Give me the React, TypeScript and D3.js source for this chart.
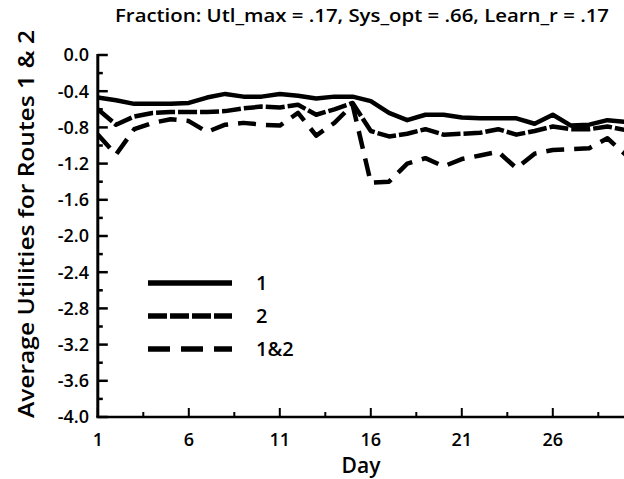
import React from "react";
import * as d3 from "d3";

const days = d3.range(1, 31);
const route1 = [-0.47, -0.5, -0.54, -0.54, -0.54, -0.53, -0.47, -0.43, -0.46, -0.46, -0.43, -0.45, -0.48, -0.46, -0.46, -0.51, -0.64, -0.72, -0.66, -0.66, -0.69, -0.7, -0.7, -0.7, -0.76, -0.66, -0.78, -0.77, -0.72, -0.74];
const route2 = [-0.6, -0.77, -0.68, -0.64, -0.63, -0.63, -0.63, -0.62, -0.59, -0.57, -0.58, -0.55, -0.66, -0.6, -0.53, -0.84, -0.9, -0.87, -0.82, -0.88, -0.87, -0.86, -0.82, -0.88, -0.84, -0.79, -0.82, -0.82, -0.79, -0.83];
const route12 = [-0.88, -1.1, -0.82, -0.75, -0.71, -0.73, -0.85, -0.77, -0.75, -0.77, -0.78, -0.64, -0.89, -0.75, -0.55, -1.41, -1.4, -1.2, -1.14, -1.23, -1.15, -1.11, -1.07, -1.25, -1.09, -1.05, -1.04, -1.03, -0.92, -1.1];

const xMajorTicks = [1, 6, 11, 16, 21, 26];
const xMinorTicks = [3.5, 8.5, 13.5, 18.5, 23.5, 28.5];
const yMajorTicks = d3.range(0, 11).map((i) => -0.4 * i);
const yMinorTicks = d3.range(0, 10).map((i) => -0.2 - 0.4 * i);

const seriesNames = ["1", "2", "1&2"];
const titleText = "Fraction: Utl_max = .17, Sys_opt = .66, Learn_r = .17";
const yLabel = "Average Utilities for Routes 1 & 2";
const xLabel = "Day";

const FONT = "'Open Sans', sans-serif";

export default function App() {
  const W = 624, H = 479;
  const x = d3.scaleLinear().domain([1, 30]).range([97.8, 625.6]);
  const y = d3.scaleLinear().domain([0, -4]).range([55, 417]);
  const line = d3
    .line<number>()
    .x((_, i) => x(days[i]))
    .y((d) => y(d));

  const series = [
    { data: route1, dash: undefined as string | undefined, legendDash: undefined as string | undefined },
    { data: route2, dash: "19,3", legendDash: "19,3" },
    { data: route12, dash: "18,10", legendDash: "22,11" },
  ];

  const x0 = x.range()[0];
  const yBottom = y(-4);

  return (
    <svg
      width={W}
      height={H}
      style={{ position: "absolute", left: 0, top: 0, background: "#fff" }}
      fontFamily={FONT}
      fontWeight={600}
    >
      <rect x={0} y={0} width={W} height={H} fill="#fff" />
      <text x={362} y={22} textAnchor="middle" fontSize={18} textLength={494} lengthAdjust="spacingAndGlyphs" fill="#000">
        {titleText}
      </text>

      <defs>
        <clipPath id="clip">
          <rect x={x0} y={0} width={W - x0} height={yBottom} />
        </clipPath>
      </defs>
      {/* data lines */}
      <g clipPath="url(#clip)">
        {series.map((s, i) => (
          <path
            key={i}
            d={line(s.data) || ""}
            fill="none"
            stroke="#000"
            strokeWidth={4.5}
            strokeDasharray={s.dash}
            strokeLinejoin="round"
          />
        ))}
      </g>

      {/* axes */}
      <line x1={x0} x2={x0} y1={y(0) - 1} y2={yBottom} stroke="#000" strokeWidth={3} />
      <line x1={x0 - 1.5} x2={W} y1={yBottom} y2={yBottom} stroke="#000" strokeWidth={2.5} />
      {yMajorTicks.map((t) => (
        <g key={"ym" + t}>
          <line x1={x0} x2={x0 + 10} y1={y(t)} y2={y(t)} stroke="#000" strokeWidth={2.5} />
          <text x={89} y={y(t)} dy="0.35em" textAnchor="end" fontSize={18} fill="#000">
            {t === 0 ? "0.0" : t.toFixed(1)}
          </text>
        </g>
      ))}
      {yMinorTicks.map((t) => (
        <line key={"yn" + t} x1={x0} x2={x0 + 5} y1={y(t)} y2={y(t)} stroke="#000" strokeWidth={2.5} />
      ))}
      {xMajorTicks.map((t) => (
        <g key={"xm" + t}>
          <line x1={x(t)} x2={x(t)} y1={yBottom} y2={yBottom - 9} stroke="#000" strokeWidth={2} />
          <text x={x(t)} y={446} textAnchor="middle" fontSize={18} fill="#000">
            {t}
          </text>
        </g>
      ))}
      {xMinorTicks.map((t) => (
        <line key={"xn" + t} x1={x(t)} x2={x(t)} y1={yBottom} y2={yBottom - 5} stroke="#000" strokeWidth={2} />
      ))}

      <text x={361} y={473} textAnchor="middle" fontSize={21} fill="#000">
        {xLabel}
      </text>
      <text
        transform={`translate(34,224) rotate(-90)`}
        textAnchor="middle"
        fontSize={21}
        textLength={388}
        lengthAdjust="spacingAndGlyphs"
        fill="#000"
      >
        {yLabel}
      </text>

      {/* legend */}
      {series.map((s, i) => {
        const ly = 283 + i * 33;
        return (
          <g key={"lg" + i}>
            <line x1={148} x2={232} y1={ly} y2={ly} stroke="#000" strokeWidth={5.5} strokeDasharray={s.legendDash} />
            <text x={256} y={ly} dy="0.35em" fontSize={20} fill="#000">
              {seriesNames[i]}
            </text>
          </g>
        );
      })}
    </svg>
  );
}
